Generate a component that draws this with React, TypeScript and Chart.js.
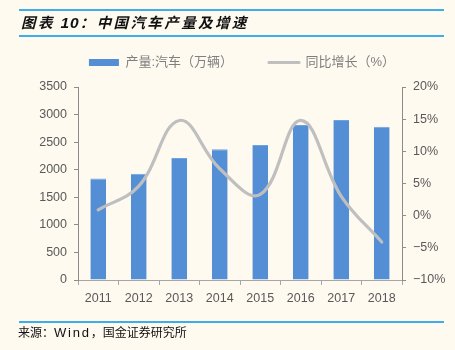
import React, { useEffect, useRef } from "react";
import { Chart, registerables } from "chart.js";

Chart.register(...registerables);

const years = ["2011", "2012", "2013", "2014", "2015", "2016", "2017", "2018"];
const production = [1842, 1927, 2212, 2372, 2450, 2812, 2902, 2781];
const growth = [0.9, 4.6, 14.8, 7.3, 3.3, 14.8, 3.0, -4.1];
const leftTicks = [0, 500, 1000, 1500, 2000, 2500, 3000, 3500];
const rightTicks = [-10, -5, 0, 5, 10, 15, 20];

const titlePrefix = "图表 ";
const titleNumber = "10";
const titleRest = "：中国汽车产量及增速";
const sourcePrefix = "来源：";
const sourceWind = "Wind";
const sourceRest = "，国金证券研究所";
const barLabel = "产量:汽车（万辆）";
const lineLabel = "同比增长（%）";

const BAR = "#548FD5";
const LINE = "#BFBFBF";
const BG = "#FEFAF0";
const RULE = "#3DAEE9";
const AXIS = "#8C8C8C";
const TICKTXT = "#595959";
const FONT = '"Liberation Sans", "Noto Sans CJK SC", sans-serif';
const CJK = '"Noto Sans CJK SC", sans-serif';

const legendHeightPlugin = {
  id: "legendHeight",
  beforeLayout(chart: any) {
    const lg = chart.legend;
    if (lg && !lg._wrappedFit) {
      const f = lg.fit;
      lg.fit = function () {
        f.call(this);
        this.height = 67;
      };
      lg._wrappedFit = true;
    }
  },
};

const fmtLeft = (v: any) => String(v);
const fmtRight = (v: any) =>
  (Number(v) < 0 ? "\u2212" + Math.abs(Number(v)) : String(v)) + "%";

export default function App() {
  const ref = useRef<HTMLCanvasElement>(null);
  useEffect(() => {
    if (!ref.current) return;
    const chart = new Chart(ref.current, {
      data: {
        labels: years,
        datasets: [
          {
            type: "line",
            label: lineLabel,
            data: growth,
            yAxisID: "y1",
            borderColor: LINE,
            backgroundColor: LINE,
            borderWidth: 3.2,
            tension: 0.4,
            pointRadius: 0,
            borderCapStyle: "round",
            order: 0,
          } as any,
          {
            type: "bar",
            label: barLabel,
            data: production,
            yAxisID: "y",
            backgroundColor: BAR,
            borderColor: "#6FA2DE",
            borderWidth: { top: 1, left: 0, right: 0, bottom: 0 },
            categoryPercentage: 1,
            barPercentage: 0.39,
            order: 1,
          } as any,
        ],
      },
      options: {
        responsive: false,
        animation: false,
        devicePixelRatio: 1,
        layout: { padding: { top: 20, left: 29, right: 0, bottom: 0 } },
        plugins: {
          tooltip: { enabled: false },
          legend: {
            position: "top",
            labels: {
              usePointStyle: true,
              pointStyleWidth: 30,
              boxHeight: 7,
              padding: 36,
              color: "#7F7F7F",
              font: { size: 13, family: FONT },
              sort: (a: any, b: any) => b.datasetIndex - a.datasetIndex,
              generateLabels: (c: any) =>
                c.data.datasets.map((ds: any, i: number) => ({
                  text: ds.label,
                  datasetIndex: i,
                  fillStyle: ds.type === "bar" ? BAR : LINE,
                  strokeStyle: ds.type === "bar" ? BAR : LINE,
                  lineWidth: ds.type === "bar" ? 0 : 3.2,
                  lineCap: "round",
                  pointStyle: ds.type === "bar" ? "rect" : "line",
                  fontColor: "#7F7F7F",
                  hidden: false,
                })),
            },
          },
        },
        scales: {
          x: {
            type: "category",
            offset: true,
            grid: {
              display: true,
              drawOnChartArea: false,
              offset: true,
              tickLength: 5,
              color: "#A6A6A6",
            },
            border: { color: "#A6A6A6" },
            ticks: { color: TICKTXT, font: { size: 12.5, family: FONT }, padding: 6, maxRotation: 0 },
            afterFit: (s: any) => {
              s.height = 70;
            },
          },
          y: {
            position: "left",
            min: 0,
            max: 3500,
            afterBuildTicks: (s: any) => {
              s.ticks = leftTicks.map((v) => ({ value: v }));
            },
            grid: { display: true, drawOnChartArea: false, tickLength: 4, color: AXIS },
            border: { color: AXIS },
            ticks: { color: TICKTXT, font: { size: 12.5, family: FONT }, padding: 7, callback: fmtLeft },
            afterFit: (s: any) => {
              s.width = 49;
            },
          },
          y1: {
            position: "right",
            min: -10,
            max: 20,
            afterBuildTicks: (s: any) => {
              s.ticks = rightTicks.map((v) => ({ value: v }));
            },
            grid: { display: true, drawOnChartArea: false, tickLength: 4, color: AXIS },
            border: { color: AXIS },
            ticks: { color: TICKTXT, font: { size: 12.5, family: FONT }, padding: 7, callback: fmtRight },
            afterFit: (s: any) => {
              s.width = 53;
            },
          },
        },
      },
      plugins: [legendHeightPlugin],
    });
    return () => chart.destroy();
  }, []);

  const rule = (top: number) => (
    <div style={{ position: "absolute", left: 19, top, width: 425, height: 1.5, background: RULE }} />
  );

  return (
    <div style={{ position: "absolute", left: 0, top: 0, width: 455, height: 350, background: BG, overflow: "hidden" }}>
      <canvas ref={ref} width={455} height={350} style={{ display: "block", position: "absolute", left: 0, top: 0 }} />
      {rule(9)}
      {rule(35)}
      {rule(321)}
      <div
        style={{
          position: "absolute",
          left: 21,
          top: 13,
          height: 18,
          lineHeight: "18px",
          whiteSpace: "nowrap",
          fontFamily: CJK,
          fontSize: 14.5,
          fontWeight: "bold",
          fontStyle: "italic",
          letterSpacing: 2.4,
          color: "#111",
        }}
      >
        {titlePrefix}
        <span style={{ fontFamily: '"Liberation Sans", sans-serif', fontSize: 15.5, letterSpacing: 1 }}>{titleNumber}</span>
        {titleRest}
      </div>
      <div
        style={{
          position: "absolute",
          left: 18,
          top: 324,
          height: 16,
          lineHeight: "16px",
          whiteSpace: "nowrap",
          fontFamily: CJK,
          fontSize: 12,
          color: "#111",
        }}
      >
        {sourcePrefix}
        <span style={{ fontFamily: '"Liberation Sans", sans-serif', fontSize: 13, letterSpacing: 1.8 }}>{sourceWind}</span>
        {sourceRest}
      </div>
    </div>
  );
}
